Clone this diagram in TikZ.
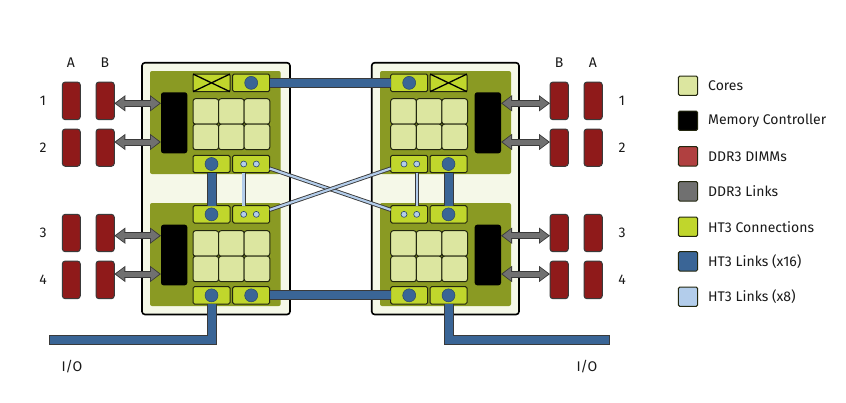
\documentclass[tikz,border=0pt]{standalone}
\usepackage{fontspec}
\setmainfont{Fira Sans}
\usetikzlibrary{arrows.meta,calc}
\definecolor{pkgfill}{HTML}{F5F8E8}
\definecolor{olive}{HTML}{8A9A23}
\definecolor{corefill}{HTML}{DCE6A0}
\definecolor{htfill}{HTML}{C0D62C}
\definecolor{dimmfill}{HTML}{8F1A1A}
\definecolor{dimmleg}{HTML}{B04040}
\definecolor{linkgray}{HTML}{707070}
\definecolor{htblue}{HTML}{3A6596}
\definecolor{htlight}{HTML}{B3CDEB}
\definecolor{edge}{HTML}{23270F}
\definecolor{linkedge}{HTML}{3A3A3A}
\tikzset{
  rbase/.style={rectangle,inner sep=0pt,outer sep=0pt},
  pkg/.style={rbase,draw=black,line width=1.6pt,fill=pkgfill,rounded corners=3pt},
  die/.style={rbase,fill=olive,rounded corners=2pt},
  core/.style={rbase,draw=edge,line width=1pt,fill=corefill,rounded corners=2.5pt},
  ht/.style={rbase,draw=edge,line width=1pt,fill=htfill,rounded corners=1.5pt},
  mc/.style={rbase,fill=black,rounded corners=2.5pt},
  dimm/.style={rbase,draw=linkedge,line width=1pt,fill=dimmfill,rounded corners=3pt},
  legbox/.style={rbase,draw=edge,line width=1pt,rounded corners=1.5pt},
  bigdot/.style={circle,inner sep=0pt,outer sep=0pt,minimum size=13pt,fill=htblue,draw=htblue!70!black,line width=.5pt},
  smalldot/.style={circle,inner sep=0pt,outer sep=0pt,minimum size=6pt,fill=htlight,draw=htblue!70!black,line width=.6pt},
  wideout/.style={draw=linkedge,line width=10pt,line join=miter},
  widein/.style={draw=htblue,line width=8pt,line join=miter},
  narrow/.style={draw=linkedge,line width=.9pt,double=htlight,double distance=2.2pt},
  lab/.style={font=\fontsize{14}{16}\selectfont,text=black!90,inner sep=0pt},
  arrowdark/.style={line width=7pt,draw=linkedge,{Triangle[width=15.5pt,length=11pt,fill=linkedge]}-{Triangle[width=15.5pt,length=11pt,fill=linkedge]}},
  arrowgray/.style={line width=5pt,draw=linkgray,shorten <=1.6pt,shorten >=1.6pt,{Triangle[width=12.5pt,length=8.5pt,fill=linkgray]}-{Triangle[width=12.5pt,length=8.5pt,fill=linkgray]}}
}
\newcommand\rnode[6]{%
  \pgfmathsetmacro\rw{#5-#3}\pgfmathsetmacro\rh{#6-#4}%
  \pgfmathsetmacro\cx{(#5+#3)/2}\pgfmathsetmacro\cy{(#6+#4)/2}%
  \node[#1,minimum width=\rw pt,minimum height=\rh pt] (#2) at (\cx,\cy) {};}
\newcommand\ddrlink[3]{%
  \coordinate (tmpy) at (0,#3);
  \draw[arrowdark] (#1.east |- tmpy) -- (#2.west |- tmpy);
  \draw[arrowgray] (#1.east |- tmpy) -- (#2.west |- tmpy);}
\begin{document}
\begin{tikzpicture}[x=1pt,y=-1pt]
\useasboundingbox (0,0) rectangle (846,402);
% packages and dies
\rnode{pkg}{pkgL}{142}{62.7}{290}{314.5}
\rnode{pkg}{pkgR}{371.7}{62.7}{519}{314.5}
\rnode{die}{dieTL}{150}{71}{280.7}{174}
\rnode{die}{dieBL}{150}{203}{280.7}{306}
\rnode{die}{dieTR}{380}{71}{511}{174}
\rnode{die}{dieBR}{380}{203}{511}{306}
% memory controllers
\rnode{mc}{mcTL}{161}{92.3}{187.3}{153.3}
\rnode{mc}{mcBL}{161}{224.7}{187.3}{285.3}
\rnode{mc}{mcTR}{474.7}{92.3}{501}{153.3}
\rnode{mc}{mcBR}{474.7}{224.7}{501}{285.3}
% core grids
\foreach \gx/\gn in {193/L,390.7/R}{
  \foreach \gy/\gm in {98.7/T,230.7/B}{
    \foreach \i in {0,1,2}{
      \foreach \j in {0,1}{
        \pgfmathsetmacro\xa{\gx+25.6*\i}\pgfmathsetmacro\xb{\gx+25.6*(\i+1)}
        \pgfmathsetmacro\ya{\gy+25.5*\j}\pgfmathsetmacro\yb{\gy+25.5*(\j+1)}
        \rnode{core}{core\gm\gn\i\j}{\xa}{\ya}{\xb}{\yb}
      }
    }
  }
}
% HT3 connection boxes
\rnode{ht}{xTL}{193}{74}{230}{91.7}
\rnode{ht}{aTL}{232.7}{74}{269.7}{91.7}
\rnode{ht}{bTL}{193}{155.3}{230}{172.7}
\rnode{ht}{cTL}{232.7}{155.3}{269.7}{172.7}
\rnode{ht}{bBL}{193}{205.7}{230}{223}
\rnode{ht}{cBL}{232.7}{205.7}{269.7}{223}
\rnode{ht}{dBL}{193}{286.7}{230}{304}
\rnode{ht}{aBL}{232.7}{286.7}{269.7}{304}
\rnode{ht}{aTR}{390.7}{74}{427.7}{91.7}
\rnode{ht}{xTR}{430}{74}{467}{91.7}
\rnode{ht}{cTR}{390.7}{155.3}{427.7}{172.7}
\rnode{ht}{bTR}{430}{155.3}{467}{172.7}
\rnode{ht}{cBR}{390.7}{205.7}{427.7}{223}
\rnode{ht}{bBR}{430}{205.7}{467}{223}
\rnode{ht}{aBR}{390.7}{286.7}{427.7}{304}
\rnode{ht}{dBR}{430}{286.7}{467}{304}
\draw[black,line width=1.3pt] (xTL.north west) -- (xTL.south east) (xTL.south west) -- (xTL.north east);
\draw[black,line width=1.3pt] (xTR.north west) -- (xTR.south east) (xTR.south west) -- (xTR.north east);
% HT3 x16 links
\foreach \p/\q in {aTL.east/aTR.west,aBL.east/aBR.west,bTL.south/bBL.north,bTR.south/bBR.north}{
  \draw[wideout] (\p) -- (\q);
  \draw[widein] (\p) -- (\q);
}
\coordinate (ioL) at (49,340.3);
\coordinate (ioLi) at (50,340.3);
\coordinate (ioR) at (610,340.3);
\coordinate (ioRi) at (609,340.3);
\draw[wideout] (dBL.south) -- (dBL.south |- ioL) -- (ioL);
\draw[widein] (dBL.south) -- (dBL.south |- ioLi) -- (ioLi);
\draw[wideout] (dBR.south) -- (dBR.south |- ioR) -- (ioR);
\draw[widein] (dBR.south) -- (dBR.south |- ioRi) -- (ioRi);
% HT3 x8 links
\coordinate (sTL) at (243.5,172.7); \coordinate (sBL) at (243.5,205.7);
\coordinate (sTR) at (417,172.7); \coordinate (sBR) at (417,205.7);
\draw[narrow] (sTL) -- (sBL);
\draw[narrow] (sTR) -- (sBR);
\draw[narrow] ($(cTL.east)+(0,4.5)$) -- ($(cBR.west)+(0,-4.5)$);
\draw[narrow] ($(cBL.east)+(0,-4.5)$) -- ($(cTR.west)+(0,4.5)$);
% dots
\foreach \n in {aTL,bTL,bBL,dBL,aBL,aTR,bTR,bBR,aBR,dBR}{
  \node[bigdot] (dot\n) at (\n) {};
}
\foreach \n/\a/\b in {cTL/243.7/256.3,cBL/243.7/256.3,cTR/404/416.7,cBR/404/416.7}{
  \node[smalldot] (sd\n a) at (\a,0 |- \n) {};
  \node[smalldot] (sd\n b) at (\b,0 |- \n) {};
}
% DIMMs
\foreach \yy/\zz/\nn in {82/119.7/1,129/166.3/2,214.3/251.7/3,261/298.7/4}{
  \rnode{dimm}{dLA\nn}{62.3}{\yy}{80.3}{\zz}
  \rnode{dimm}{dLB\nn}{96}{\yy}{114.3}{\zz}
  \rnode{dimm}{dRB\nn}{550}{\yy}{568.3}{\zz}
  \rnode{dimm}{dRA\nn}{584}{\yy}{602.3}{\zz}
}
% DDR3 links
\ddrlink{dLB1}{mcTL}{103.3}
\ddrlink{dLB2}{mcTL}{142}
\ddrlink{dLB3}{mcBL}{235.7}
\ddrlink{dLB4}{mcBL}{274}
\ddrlink{mcTR}{dRB1}{103.3}
\ddrlink{mcTR}{dRB2}{142}
\ddrlink{mcBR}{dRB3}{235.7}
\ddrlink{mcBR}{dRB4}{274}
% labels
\node[lab] (tA) at (71,63) {A};
\node[lab] (tB) at (105,63) {B};
\node[lab] (tB2) at (559,63) {B};
\node[lab] (tA2) at (593,63) {A};
\foreach \t/\yy in {1/101,2/148,3/233,4/280}{
  \node[lab] (tl\t) at (43,\yy) {\t};
  \node[lab] (tr\t) at (622,\yy) {\t};
}
\node[lab] (io1) at (72,367) {I/O};
\node[lab] (io2) at (587,367) {I/O};
% legend
\foreach \yy/\col/\txt/\nm in {85.7/corefill/Cores/a,120.7/black/Memory Controller/b,156.3/dimmleg/DDR3 DIMMs/c,191.3/linkgray/DDR3 Links/d,226.7/htfill/HT3 Connections/e,261.3/htblue/HT3 Links (x16)/f,296.7/htlight/HT3 Links (x8)/g}{
  \pgfmathsetmacro\ya{\yy-9.7}\pgfmathsetmacro\yb{\yy+9.7}
  \rnode{legbox,fill=\col}{leg\nm}{678.3}{\ya}{697.7}{\yb}
  \node[lab,anchor=west] (legt\nm) at (708,\yy) {\txt};
}
\end{tikzpicture}
\end{document}
